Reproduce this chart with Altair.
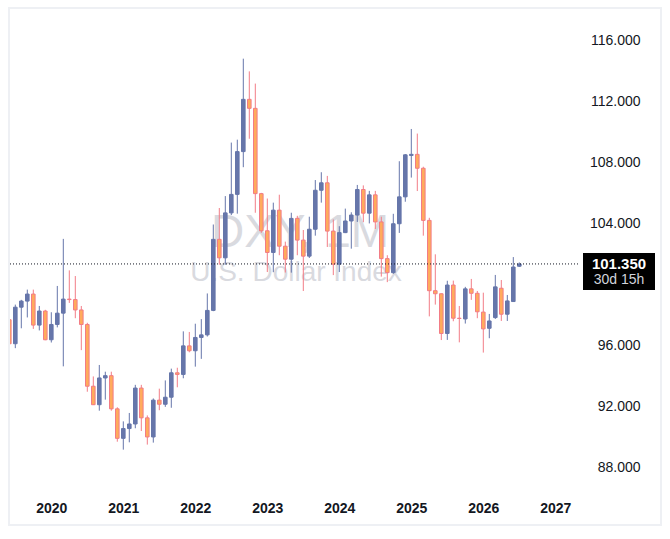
import altair as alt
import pandas as pd

# ---------------- data (monthly DXY candles, Jun 2019 .. Jul 2026) ----------------
months = pd.period_range("2019-06", "2026-07", freq="M").strftime("%Y-%m").tolist()

opens = [
    97.70, 96.13, 98.52, 98.92, 99.38, 97.35, 98.27,            # 2019 Jun-Dec
    96.39, 97.39, 98.13, 99.05, 99.02, 98.34, 97.39, 93.35, 92.14, 93.89, 94.04, 91.87,   # 2020
    89.94, 90.58, 90.88, 93.23, 91.28, 90.03, 92.44, 92.17, 92.63, 94.23, 94.12, 95.99,   # 2021
    95.67, 96.54, 96.71, 98.31, 102.96, 101.75, 104.69, 105.90, 108.70, 112.12, 111.53, 105.95,  # 2022
    103.52, 102.10, 104.87, 102.51, 101.66, 104.33, 102.91, 101.86, 103.62, 106.17, 106.66, 103.50,  # 2023
    101.33, 103.40, 104.16, 104.55, 106.22, 104.67, 105.87, 104.10, 101.70, 100.78, 103.98, 105.74,  # 2024
    108.45, 108.52, 107.61, 104.20, 99.60, 99.40, 96.80, 99.97, 97.80, 97.75, 99.72, 99.43,  # 2025
    98.20, 97.14, 97.84, 99.76, 98.06, 98.89, 101.20,                                      # 2026
]
highs = [
    97.80, 98.69, 99.00, 99.67, 99.67, 98.60, 98.35,
    98.19, 99.91, 102.99, 100.93, 100.56, 98.60, 97.50, 93.99, 94.74, 94.30, 94.30, 91.97,
    91.05, 91.60, 93.44, 93.44, 91.44, 92.55, 93.19, 93.73, 94.50, 94.56, 96.94, 96.90,
    97.44, 97.74, 99.42, 103.93, 105.01, 105.79, 109.29, 109.48, 114.78, 113.95, 113.15, 106.00,
    105.63, 105.36, 105.88, 102.81, 104.70, 104.50, 103.57, 104.44, 106.84, 107.35, 107.11, 104.26,
    103.82, 104.97, 104.73, 106.52, 106.49, 106.13, 106.13, 104.44, 101.92, 104.63, 108.07, 108.54,
    110.18, 109.88, 107.71, 104.37, 101.98, 99.42, 100.25, 100.26, 98.60, 99.85, 100.37, 99.58,
    99.47, 98.08, 100.63, 100.30, 99.32, 101.80, 101.45,
]
lows = [
    95.84, 95.84, 97.14, 97.85, 97.10, 97.00, 96.36,
    96.21, 97.20, 94.65, 98.80, 97.80, 95.71, 92.99, 92.12, 91.75, 92.47, 91.75, 89.72,
    89.20, 89.68, 90.60, 90.42, 89.53, 89.66, 91.78, 92.00, 91.94, 93.28, 93.87, 95.57,
    94.63, 95.14, 96.60, 98.26, 101.30, 101.30, 104.55, 104.64, 107.68, 109.54, 104.70, 103.39,
    100.82, 100.81, 101.92, 100.79, 100.78, 101.92, 99.58, 101.74, 103.20, 105.36, 102.46, 100.62,
    100.82, 103.37, 102.35, 104.10, 104.08, 104.00, 103.64, 100.52, 100.16, 100.70, 103.38, 105.42,
    107.00, 106.12, 103.20, 97.92, 98.69, 96.37, 96.38, 97.60, 96.22, 97.45, 99.00, 97.80,
    95.55, 96.49, 97.75, 97.62, 97.62, 98.89, 101.15,
]
closes = [
    96.13, 98.52, 98.92, 99.38, 97.35, 98.27, 96.39,
    97.39, 98.13, 99.05, 99.02, 98.34, 97.39, 93.35, 92.14, 93.89, 94.04, 91.87, 89.94,
    90.58, 90.88, 93.23, 91.28, 90.03, 92.44, 92.17, 92.63, 94.23, 94.12, 95.99, 95.67,
    96.54, 96.71, 98.31, 102.96, 101.75, 104.69, 105.90, 108.70, 112.12, 111.53, 105.95, 103.52,
    102.10, 104.87, 102.51, 101.66, 104.33, 102.91, 101.86, 103.62, 106.17, 106.66, 103.50, 101.33,
    103.40, 104.16, 104.55, 106.22, 104.67, 105.87, 104.10, 101.70, 100.78, 103.98, 105.74, 108.49,
    108.52, 107.61, 104.20, 99.60, 99.40, 96.80, 99.97, 97.80, 97.78, 99.72, 99.43, 98.22,
    97.10, 97.62, 99.85, 98.06, 98.93, 101.15, 101.35,
]

year_labels = ["2020", "2021", "2022", "2023", "2024", "2025", "2026", "2027"]
price_tick_labels_shown = [88, 92, 96, 104, 108, 112, 116]
last_price = 101.35
countdown = "30d 15h"
wm_title = "DXY, 1M"
wm_sub = "U.S. Dollar Index"

# ---------------- table ----------------
df = pd.DataFrame({
    "i": list(range(len(months))),
    "month": months,
    "open": opens, "high": highs, "low": lows, "close": closes,
})
df["dir"] = ["up" if c >= o else "down" for o, c in zip(opens, closes)]

first = pd.Period(months[0], freq="M")
year_idx = [(pd.Period(y + "-01", freq="M") - first).n for y in year_labels]

UP = "#6676AA"
DOWN_FILL = "#FFAB5C"
DOWN_LINE = "#F27C86"
TXT = "#131722"

W, H = 568, 481
BAR_PX = 6.0
x0 = 0.7 / BAR_PX
x_dom = [x0, x0 + W / BAR_PX]
y_dom = [86.56, 118.03]

xs = alt.Scale(domain=x_dom, nice=False, zero=False, padding=0)
ys = alt.Scale(domain=y_dom, nice=False, zero=False, padding=0)

label_expr = f"{year_labels}[(datum.value - {year_idx[0]}) / 12]"

base = alt.Chart(df)

x_enc = alt.X("i:Q", scale=xs, axis=alt.Axis(
    values=year_idx, labelExpr=label_expr, title=None, grid=False, domain=False,
    ticks=False, labelFont="Liberation Sans", labelFontSize=14, labelFontWeight="bold",
    labelColor=TXT, labelPadding=11, labelFlush=False))

y_axis = alt.Axis(orient="right", values=price_tick_labels_shown, format=".3f", title=None,
                  grid=False, domain=False, ticks=False, labelFont="Liberation Sans",
                  labelFontSize=14, labelColor=TXT, labelAlign="right", labelPadding=62)

wicks = base.mark_rule(strokeWidth=1, clip=True).encode(
    x=x_enc,
    y=alt.Y("low:Q", scale=ys, axis=y_axis),
    y2="high:Q",
    color=alt.Color("dir:N", scale=alt.Scale(domain=["up", "down"], range=[UP, DOWN_LINE]), legend=None),
)

bodies = base.mark_bar(size=3.6, strokeWidth=1, clip=True).encode(
    x=alt.X("i:Q", scale=xs),
    y=alt.Y("open:Q", scale=ys),
    y2="close:Q",
    fill=alt.Fill("dir:N", scale=alt.Scale(domain=["up", "down"], range=[UP, DOWN_FILL]), legend=None),
    stroke=alt.Stroke("dir:N", scale=alt.Scale(domain=["up", "down"], range=[UP, DOWN_LINE]), legend=None),
)

wm_df = pd.DataFrame({"t": [wm_title], "s": [wm_sub]})
wm1 = alt.Chart(wm_df).mark_text(font="Liberation Sans", fontSize=46, color="#D9DADF",
                                 align="center", baseline="alphabetic").encode(
    text="t:N", x=alt.value(290), y=alt.value(238))
wm2 = alt.Chart(wm_df).mark_text(font="Liberation Sans", fontSize=28, color="#D9DADF",
                                 align="center", baseline="alphabetic").encode(
    text="s:N", x=alt.value(286), y=alt.value(272))

lp_df = pd.DataFrame({"p": [last_price], "cd": [countdown]})
dotted = alt.Chart(lp_df).mark_rule(strokeDash=[1, 2], strokeWidth=1, color=TXT).encode(
    y=alt.Y("p:Q", scale=ys))

box_path = "M-1,-0.306L1,-0.306L1,0.722L-1,0.722Z"
box = alt.Chart(lp_df).mark_point(shape=box_path, filled=True, size=72 * 72, color="#000000",
                                  opacity=1, strokeWidth=0).encode(
    x=alt.value(W + 41), y=alt.Y("p:Q", scale=ys))
lp_txt = alt.Chart(lp_df).mark_text(font="Liberation Sans", fontSize=15, fontWeight="bold",
                                    color="#FFFFFF", align="center", baseline="middle").encode(
    x=alt.value(W + 41), y=alt.Y("p:Q", scale=ys), text=alt.Text("p:Q", format=".3f"))
cd_txt = alt.Chart(lp_df).mark_text(font="Liberation Sans", fontSize=14, color="#D1D4DC",
                                    align="center", baseline="middle", dy=16).encode(
    x=alt.value(W + 41), y=alt.Y("p:Q", scale=ys), text="cd:N")

frame = alt.Chart(lp_df).mark_rect(filled=False, stroke="#EEF0F4", strokeWidth=2).encode(
    x=alt.value(-1), x2=alt.value(651), y=alt.value(-1), y2=alt.value(516))

chart = alt.layer(frame, wm1, wm2, wicks, bodies, dotted, box, lp_txt, cd_txt).properties(
    width=W, height=H,
    padding={"left": 10, "top": 9, "right": 670 - 10 - W, "bottom": 539 - 9 - H},
    autosize=alt.AutoSizeParams(type="none"),
    background="#FFFFFF",
).configure_view(stroke=None)

chart.save("out.html", embed_options={"renderer": "svg", "actions": False})
